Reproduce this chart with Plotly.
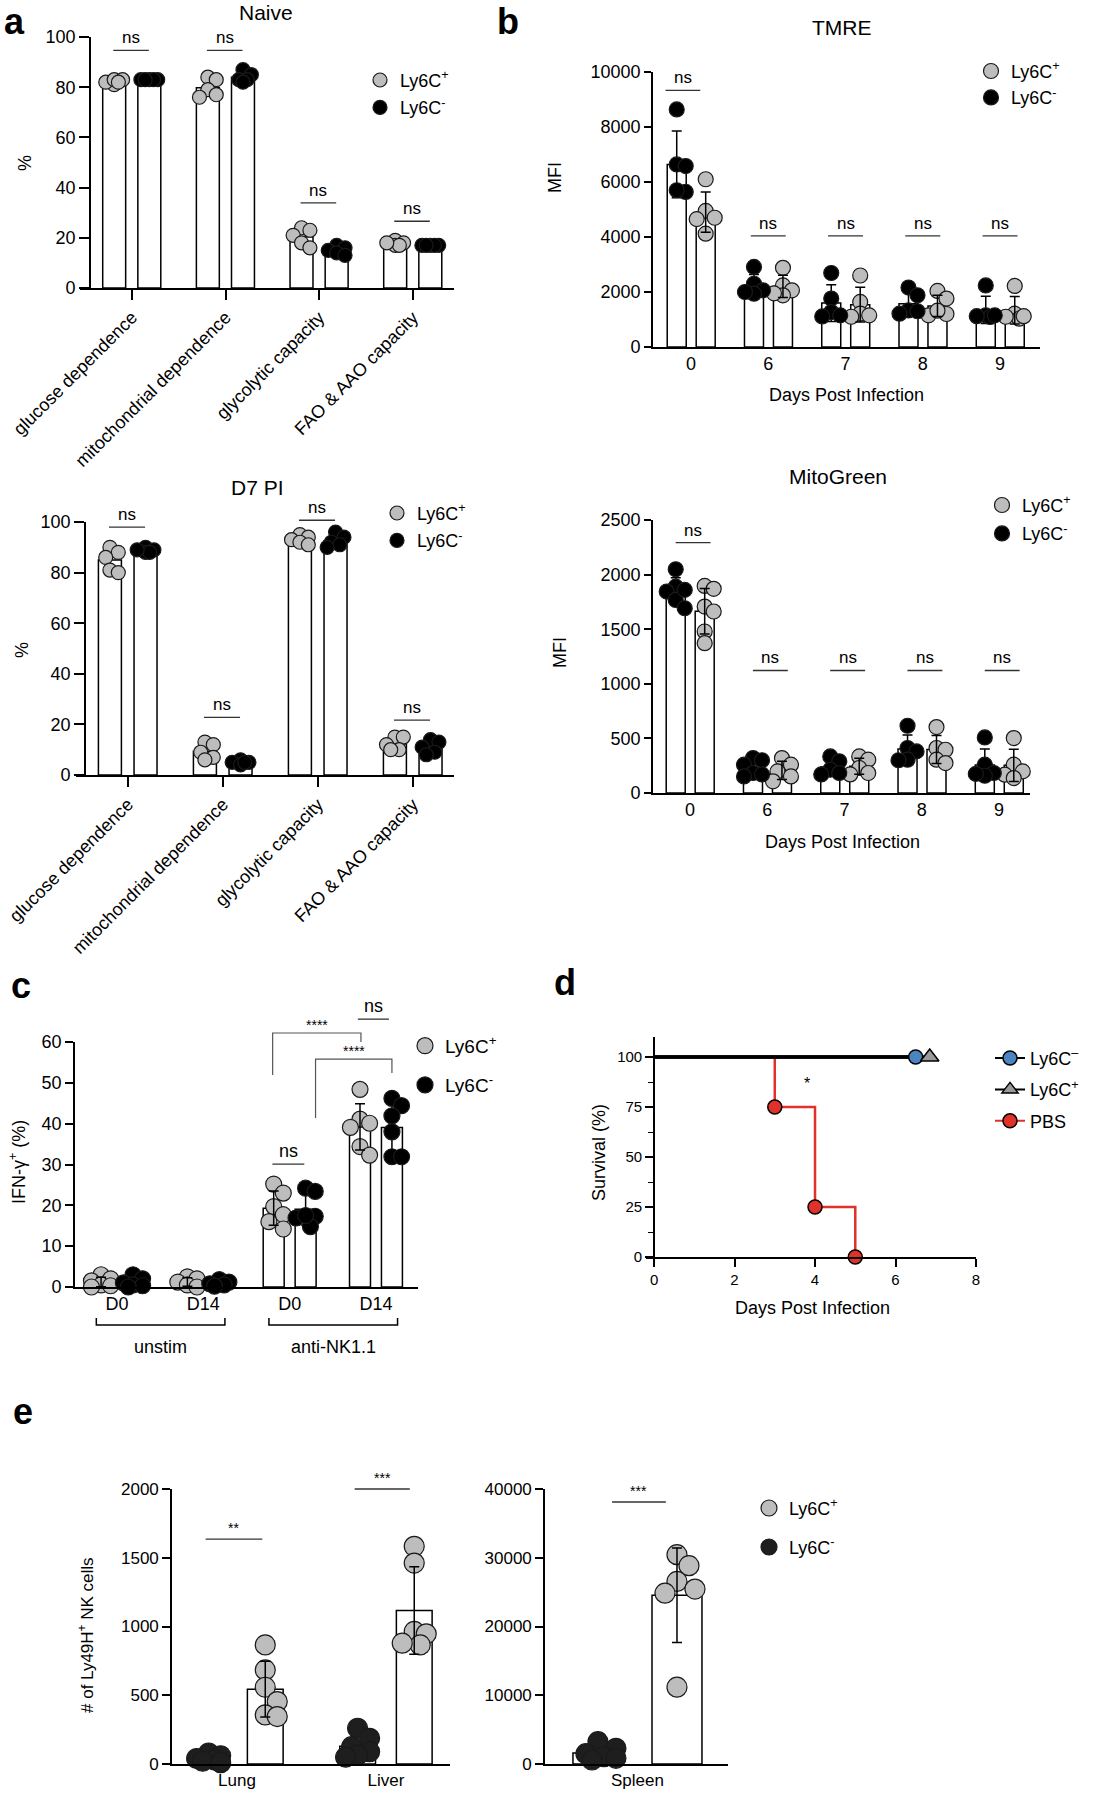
import math
import numpy as np
import plotly.graph_objects as go

W, H = 1096, 1800
FONT = "Arial, Liberation Sans, Helvetica, sans-serif"
GREY = "#bdbdbd"
BLACK = "#000000"

# ---------------- data ----------------
metab_labels = ["glucose dependence", "mitochondrial dependence", "glycolytic capacity", "FAO & AAO capacity"]
naive_ly6c_pos = [[81, 82, 83, 83, 82], [84, 83, 79, 77, 76], [24, 23, 21, 18, 16], [19, 18, 17, 17, 18]]
naive_ly6c_neg = [[83, 83, 83, 83, 83], [87, 85, 83, 83, 82], [17, 16, 15, 14, 13], [17, 17, 17, 17, 17]]
d7_ly6c_pos = [[90, 88, 86, 81, 80], [13, 12, 9, 7, 6], [95, 94, 93, 92, 91], [15, 15, 12, 10, 10]]
d7_ly6c_neg = [[90, 89, 88, 88, 89], [6, 5, 5, 4, 5], [96, 94, 92, 91, 90], [14, 13, 11, 9, 8]]

days_labels = ["0", "6", "7", "8", "9"]
tmre_ly6c_pos = [[6100, 4950, 4700, 4650, 4120], [2880, 2240, 2060, 1880, 1950], [2600, 1640, 1210, 1150, 1100],
                 [2040, 1760, 1150, 1200, 1320], [2220, 1210, 1030, 1100, 1120]]
tmre_ly6c_neg = [[8640, 6640, 6580, 5640, 5700], [2910, 2300, 2060, 1940, 2000], [2690, 1760, 1270, 1150, 1110],
                 [2160, 1880, 1330, 1210, 1300], [2240, 1150, 1090, 1150, 1120]]
mito_ly6c_pos = [[1896, 1870, 1707, 1662, 1479, 1372], [320, 259, 198, 152, 107], [335, 305, 229, 183, 170],
                 [604, 412, 396, 305, 274], [503, 259, 198, 168, 137]]
mito_ly6c_neg = [[2049, 1890, 1845, 1768, 1692, 1860], [320, 300, 259, 183, 152, 170], [335, 290, 213, 183, 170],
                 [616, 412, 381, 305, 300], [509, 259, 183, 158, 175]]

ifn_labels = ["D0", "D14", "D0", "D14"]
ifn_groups = ["unstim", "anti-NK1.1"]
ifn_ly6c_pos = [[3, 2, 1.5, 0.5, 0, 0.3], [2.5, 2, 1.2, 0.5, 0], [25.2, 23, 19.7, 17.7, 16, 14.2],
                [48.4, 41.1, 40.1, 39.1, 34.4, 32.3]]
ifn_ly6c_neg = [[3, 2, 1, 0.5, 0.3, 0], [1.8, 1.2, 0.8, 0.5, 0.2], [24.2, 23.4, 17.3, 16.9, 14.8, 17.5],
                [46.2, 44.4, 41.9, 38.0, 31.9, 31.9]]

pbs_days = [0, 3, 4, 5]
pbs_surv = [100, 75, 25, 0]
ly6c_neg_days = [0, 6.5]
ly6c_neg_surv = [100, 100]
ly6c_pos_days = [0, 6.85]
ly6c_pos_surv = [100, 100]

organ_labels = ["Lung", "Liver"]
ly49h_ly6c_neg = [[80, 60, 40, 30, 20, 10], [260, 187, 126, 90, 65, 50]]
ly49h_ly6c_pos = [[866, 684, 558, 454, 357, 345], [1583, 1461, 964, 947, 866, 879]]
spleen_labels = ["Spleen"]
spleen_ly6c_neg = [[3250, 2280, 1500, 1070, 830, 580]]
spleen_ly6c_pos = [[30440, 28840, 26550, 25440, 24850, 11170]]

POS_NAME = "Ly6C<sup>+</sup>"
NEG_NAME = "Ly6C<sup>-</sup>"

# ---------------- helpers ----------------
fig = go.Figure()
panels = {}
shapes, annots = [], []


def sfx(n):
    return "" if n == 1 else str(n)


def setup_panel(n, xpx, ypx, xr, yr, ypos_px=None, xextra=None, yextra=None, fsize=18):
    panels[n] = dict(x0=xpx[0], x1=xpx[1], y0=ypx[0], y1=ypx[1], xr=xr, yr=yr)
    s = sfx(n)
    base = dict(showline=True, linecolor="black", linewidth=1.6, showgrid=False, zeroline=False,
                ticks="outside", tickcolor="black", tickwidth=1.6, ticklen=8, automargin=False,
                tickfont=dict(family=FONT, size=fsize, color="black"), fixedrange=True)
    xa = dict(base, domain=[xpx[0] / W, xpx[1] / W], range=xr, anchor="y" + s)
    ya = dict(base, domain=[1 - ypx[1] / H, 1 - ypx[0] / H], range=yr, anchor="x" + s)
    if ypos_px is not None:
        ya["anchor"] = "free"
        ya["position"] = ypos_px / W
    if xextra:
        xa.update(xextra)
    if yextra:
        ya.update(yextra)
    fig.update_layout(**{"xaxis" + s: xa, "yaxis" + s: ya})


def to_px(n, xv, yv):
    p = panels[n]
    X = p["x0"] + (xv - p["xr"][0]) / (p["xr"][1] - p["xr"][0]) * (p["x1"] - p["x0"])
    Y = p["y1"] - (yv - p["yr"][0]) / (p["yr"][1] - p["yr"][0]) * (p["y1"] - p["y0"])
    return X, Y


def scale(n):
    p = panels[n]
    return ((p["x1"] - p["x0"]) / (p["xr"][1] - p["xr"][0]),
            (p["y1"] - p["y0"]) / (p["yr"][1] - p["yr"][0]))


def line_px(pts, width=1.4, color="black"):
    path = "M " + " L ".join(f"{x / W:.5f},{1 - y / H:.5f}" for x, y in pts)
    shapes.append(dict(type="path", path=path, xref="paper", yref="paper",
                       line=dict(color=color, width=width)))


def text_px(x, y, text, size=18, xanchor="center", yanchor="middle", angle=0):
    annots.append(dict(x=x / W, y=1 - y / H, xref="paper", yref="paper", text=text, showarrow=False,
                       xanchor=xanchor, yanchor=yanchor, textangle=angle,
                       font=dict(family=FONT, size=size, color="black")))


def sig(n, xa, xb, y, text, size=17):
    X0, Y = to_px(n, xa, y)
    X1, _ = to_px(n, xb, y)
    line_px([(X0, Y), (X1, Y)], width=1.3, color="#333333")
    text_px((X0 + X1) / 2, Y - 1, text, size, yanchor="bottom")


def swarm(vals, center, sx, sy, diam, maxoff, fac=0.75):
    placed = []
    res = [center] * len(vals)
    step = diam * 0.3
    cands = [0.0]
    k = 1
    while k * step <= maxoff:
        cands += [k * step, -k * step]
        k += 1
    order = sorted(range(len(vals)), key=lambda i: -vals[i])
    for i in order:
        y = vals[i] * sy
        best, bestov = 0.0, 1e9
        for c in cands:
            ov = max([0.0] + [diam * fac - math.hypot(c - px, y - py) for px, py in placed])
            if ov <= 0:
                best = c
                break
            if ov < bestov:
                bestov, best = ov, c
        placed.append((best, y))
        res[i] = center + best / sx
    return res


def add_series(n, vals_list, off, bw, color, name, legend, rank, diam, maxoff,
               err="top", pt_line="#1a1a1a", fac=0.75, showlegend=True):
    """err: 'top' (error bars over points), 'under' (below points) or None."""
    s = sfx(n)
    xa, ya = "x" + s, "y" + s
    centers = list(range(len(vals_list)))
    xs = [c + off for c in centers]
    means = [float(np.mean(v)) for v in vals_list]
    sds = [float(np.std(v, ddof=1)) for v in vals_list]
    fig.add_trace(go.Bar(x=xs, y=means, width=bw, xaxis=xa, yaxis=ya, showlegend=False, hoverinfo="skip",
                         marker=dict(color="white", line=dict(color="black", width=1.5))))
    err_trace = go.Scatter(x=xs, y=means, mode="markers", xaxis=xa, yaxis=ya, cliponaxis=False,
                           marker=dict(size=1, color="rgba(0,0,0,0)"), showlegend=False,
                           error_y=dict(type="data", array=sds, color="black", thickness=1.5, width=5),
                           hoverinfo="skip")
    if err == "under":
        fig.add_trace(err_trace)
    sx, sy = scale(n)
    px_, py_ = [], []
    for c, v in zip(xs, vals_list):
        px_ += swarm(v, c, sx, sy, diam, maxoff, fac)
        py_ += list(v)
    fig.add_trace(go.Scatter(x=px_, y=py_, mode="markers", xaxis=xa, yaxis=ya, cliponaxis=False,
                             marker=dict(size=diam, color=color, line=dict(color=pt_line, width=1.2)),
                             name=name, legend=legend, legendrank=rank, legendgroup=legend + name,
                             showlegend=showlegend, hoverinfo="skip"))
    if err == "top":
        fig.add_trace(err_trace)


def legend_cfg(cx, cy, gap=0, size=18):
    return dict(x=(cx - 20) / W, y=1 - (cy - 18.2) / H, xanchor="left", yanchor="top",
                bgcolor="rgba(0,0,0,0)", borderwidth=0, tracegroupgap=gap, traceorder="grouped",
                font=dict(family=FONT, size=size, color="black"), itemclick=False, itemdoubleclick=False)


cat_ticks = dict(tickmode="array", tickvals=list(range(4)), ticktext=metab_labels, tickangle=-45, ticklen=10)

# ---------------- panel a (Naive) ----------------
setup_panel(1, (80, 454), (37, 288), [-0.555, 3.438], [0, 100], ypos_px=90,
            xextra=cat_ticks, yextra=dict(dtick=20, ticklen=10))
add_series(1, naive_ly6c_pos, -0.19, 0.245, GREY, POS_NAME, "legend", 1, 14, 12, err=None)
add_series(1, naive_ly6c_neg, 0.185, 0.245, BLACK, NEG_NAME, "legend", 2, 14, 12, err=None)
for g, yv in enumerate([94.7, 94.7, 33.9, 26.6]):
    sig(1, g - 0.2, g + 0.18, yv, "ns")
text_px(266, 12, "Naive", 21)
text_px(25, 163, "%", 18, angle=-90)

# ---------------- panel a (D7 PI) ----------------
setup_panel(2, (76, 454), (522, 775), [-0.547, 3.432], [0, 100], ypos_px=85,
            xextra=cat_ticks, yextra=dict(dtick=20, ticklen=10))
add_series(2, d7_ly6c_pos, -0.19, 0.242, GREY, POS_NAME, "legend2", 1, 14, 12, err=None)
add_series(2, d7_ly6c_neg, 0.185, 0.242, BLACK, NEG_NAME, "legend2", 2, 14, 12, err=None)
for g, yv in enumerate([98, 22.8, 100.7, 21.7]):
    sig(2, g - 0.2, g + 0.18, yv, "ns")
text_px(257, 488, "D7 PI", 21)
text_px(22, 650, "%", 18, angle=-90)

# ---------------- panel b (TMRE) ----------------
day_ticks = dict(tickmode="array", tickvals=list(range(5)), ticktext=days_labels, ticks="")
setup_panel(3, (653, 1040), (72, 347), [-0.492, 4.517], [0, 10000],
            xextra=day_ticks, yextra=dict(dtick=2000, tickformat="d", ticklen=7))
add_series(3, tmre_ly6c_pos, 0.19, 0.246, GREY, POS_NAME, "legend3", 1, 15, 12, err="top")
add_series(3, tmre_ly6c_neg, -0.185, 0.246, BLACK, NEG_NAME, "legend3", 2, 15, 12, err="under")
sig(3, -0.33, 0.12, 9330, "ns")
for g in range(1, 5):
    sig(3, g - 0.226, g + 0.226, 4040, "ns")
text_px(842, 28, "TMRE", 21)
text_px(555, 178, "MFI", 18, angle=-90)
text_px(846, 395, "Days Post Infection", 18)

# ---------------- panel b (MitoGreen) ----------------
setup_panel(4, (653, 1030), (520, 793), [-0.479, 4.40], [0, 2500],
            xextra=day_ticks, yextra=dict(dtick=500, tickformat="d", ticklen=7))
add_series(4, mito_ly6c_pos, 0.19, 0.246, GREY, POS_NAME, "legend4", 1, 15, 12, err="top")
add_series(4, mito_ly6c_neg, -0.185, 0.246, BLACK, NEG_NAME, "legend4", 2, 15, 12, err="under")
sig(4, 0.04 - 0.226, 0.04 + 0.226, 2293, "ns")
for g in range(1, 5):
    sig(4, g + 0.04 - 0.226, g + 0.04 + 0.226, 1122, "ns")
text_px(838, 476, "MitoGreen", 21)
text_px(560, 653, "MFI", 18, angle=-90)
text_px(842, 842, "Days Post Infection", 18)

# ---------------- panel c ----------------
setup_panel(5, (75, 418), (1042, 1287), [-0.487, 3.487], [0, 60],
            xextra=dict(tickmode="array", tickvals=list(range(4)), ticktext=ifn_labels, ticks=""),
            yextra=dict(dtick=10, ticklen=8))
add_series(5, ifn_ly6c_pos, -0.185, 0.243, GREY, POS_NAME, "legend5", 1, 16, 14, fac=0.8, err="top")
add_series(5, ifn_ly6c_neg, 0.185, 0.243, BLACK, NEG_NAME, "legend5", 2, 16, 14, fac=0.8, err="under")
sig(5, 2 - 0.2, 2 + 0.17, 30.1, "ns", 18)
sig(5, 3 - 0.21, 3 + 0.15, 65.6, "ns", 18)
xa0, ya0 = to_px(5, 2 - 0.197, 51.9)
xb0, yb0 = to_px(5, 3 - 0.174, 60.0)
_, yt0 = to_px(5, 0, 62.2)
line_px([(xa0, ya0), (xa0, yt0), (xb0, yt0), (xb0, yb0)], width=1.2, color="#555555")
text_px((xa0 + xb0) / 2, yt0 + 2, "****", 14, yanchor="bottom")
xa1, ya1 = to_px(5, 2 + 0.30, 41.4)
xb1, yb1 = to_px(5, 3 + 0.185, 52.4)
_, yt1 = to_px(5, 0, 55.8)
line_px([(xa1, ya1), (xa1, yt1), (xb1, yt1), (xb1, yb1)], width=1.2, color="#555555")
text_px((xa1 + xb1) / 2, yt1 + 2, "****", 14, yanchor="bottom")
for gi, gname in enumerate(ifn_groups):
    xl, _ = to_px(5, 2 * gi - 0.24, 0)
    xr_, _ = to_px(5, 2 * gi + 1 + 0.25, 0)
    line_px([(xl, 1318), (xl, 1325), (xr_, 1325), (xr_, 1318)], width=1.5)
    text_px((xl + xr_) / 2, 1347, gname, 18)
text_px(17, 1162, "IFN-γ<sup>+</sup> (%)", 18, angle=-90)

# ---------------- panel d ----------------
setup_panel(6, (646, 976), (1037, 1257), [-0.2, 8], [0, 110], ypos_px=654, fsize=15,
            xextra=dict(tickmode="array", tickvals=[0, 2, 4, 6, 8], ticklen=8),
            yextra=dict(tickmode="array", tickvals=[0, 25, 50, 75, 100], ticklen=8,
                        minor=dict(tickmode="array", tickvals=[12.5, 37.5, 62.5, 87.5], ticklen=5,
                                   ticks="outside", tickcolor="black", tickwidth=1.4)))
RED = "#e0312b"
BLUE = "#4a85c0"
fig.add_trace(go.Scatter(x=pbs_days, y=pbs_surv, mode="lines", line=dict(color=RED, width=2.5, shape="hv"),
                         xaxis="x6", yaxis="y6", showlegend=False, cliponaxis=False, hoverinfo="skip"))
fig.add_trace(go.Scatter(x=ly6c_pos_days, y=ly6c_pos_surv, mode="lines", line=dict(color="black", width=3.5),
                         xaxis="x6", yaxis="y6", showlegend=False, cliponaxis=False, hoverinfo="skip"))
fig.add_trace(go.Scatter(x=ly6c_neg_days, y=ly6c_neg_surv, mode="lines", line=dict(color="black", width=3.5),
                         xaxis="x6", yaxis="y6", showlegend=False, cliponaxis=False, hoverinfo="skip"))
fig.add_trace(go.Scatter(x=ly6c_neg_days[-1:], y=ly6c_neg_surv[-1:], mode="markers", xaxis="x6", yaxis="y6",
                         marker=dict(size=14, color=BLUE, line=dict(color="black", width=1.5)),
                         showlegend=False, cliponaxis=False, hoverinfo="skip"))
fig.add_trace(go.Scatter(x=ly6c_pos_days[-1:], y=ly6c_pos_surv[-1:], mode="markers", xaxis="x6", yaxis="y6",
                         marker=dict(size=16, symbol="triangle-up", color="#9a9a9a",
                                     line=dict(color="black", width=1.5)),
                         showlegend=False, cliponaxis=False, hoverinfo="skip"))
fig.add_trace(go.Scatter(x=pbs_days[1:], y=pbs_surv[1:], mode="markers", xaxis="x6", yaxis="y6",
                         marker=dict(size=14, color=RED, line=dict(color="black", width=1.5)),
                         showlegend=False, cliponaxis=False, hoverinfo="skip"))
for nm, col, sym, lc, rk in [("Ly6C<sup>–</sup>", BLUE, "circle", "black", 1),
                             ("Ly6C<sup>+</sup>", "#9a9a9a", "triangle-up", "black", 2),
                             ("PBS", RED, "circle", RED, 3)]:
    fig.add_trace(go.Scatter(x=[None], y=[None], mode="lines+markers", xaxis="x6", yaxis="y6",
                             line=dict(color=lc, width=2),
                             marker=dict(size=14, symbol=sym, color=col, line=dict(color="black", width=1.5)),
                             name=nm, legend="legend6", legendrank=rk, legendgroup="d" + nm))
X, Y = to_px(6, 3.8, 87)
text_px(X, Y, "*", 16)
text_px(599, 1153, "Survival (%)", 18, angle=-90)
text_px(812, 1308, "Days Post Infection", 18)

# ---------------- panel e ----------------
setup_panel(7, (172, 450), (1489, 1764), [-0.436, 1.43], [0, 2000], fsize=17,
            xextra=dict(tickmode="array", tickvals=[0, 1], ticktext=organ_labels, ticks=""),
            yextra=dict(dtick=500, tickformat="d", ticklen=8))
add_series(7, ly49h_ly6c_pos, 0.19, 0.24, GREY, POS_NAME, "legend7", 1, 20, 16, fac=0.8, err="top")
add_series(7, ly49h_ly6c_neg, -0.19, 0.24, "#1e1e1e", NEG_NAME, "legend7", 2, 20, 16, fac=0.8, err="under")
setup_panel(8, (545, 728), (1489, 1764), [-0.62, 0.607], [0, 40000], fsize=17,
            xextra=dict(tickmode="array", tickvals=[0], ticktext=spleen_labels, ticks=""),
            yextra=dict(dtick=10000, tickformat="d", ticklen=8))
add_series(8, spleen_ly6c_pos, 0.265, 0.335, GREY, POS_NAME, "legend7", 3, 20, 20, fac=0.8, err="top",
           showlegend=False)
add_series(8, spleen_ly6c_neg, -0.265, 0.335, "#1e1e1e", NEG_NAME, "legend7", 4, 20, 20, fac=0.8,
           err="under", showlegend=False)
sig(7, -0.21, 0.17, 1636, "**", 14)
sig(7, 1 - 0.21, 1 + 0.16, 2000, "***", 14)
sig(8, -0.17, 0.19, 38109, "***", 14)
text_px(86, 1635, "# of Ly49H<sup>+</sup> NK cells", 17, angle=-90)

# ---------------- panel letters ----------------
for lt, (lx, ly) in {"a": (14, 21), "b": (508, 21), "c": (21, 985), "d": (565, 982), "e": (23, 1411)}.items():
    text_px(lx, ly, f"<b>{lt}</b>", 36)

fig.update_layout(
    template="none",
    width=W, height=H, autosize=False, margin=dict(l=0, r=0, t=0, b=0, pad=0),
    paper_bgcolor="white", plot_bgcolor="white", barmode="overlay",
    font=dict(family=FONT, color="black"),
    shapes=shapes, annotations=annots,
    legend=legend_cfg(380, 80, 1),
    legend2=legend_cfg(397, 513, 1),
    legend3=legend_cfg(991, 71, 0),
    legend4=legend_cfg(1002, 505, 2),
    legend5=legend_cfg(425, 1045, 11.6, 19),
    legend6=legend_cfg(1010, 1058, 5),
    legend7=legend_cfg(769, 1508, 12.6),
)

fig.write_html("out.html", config={"displayModeBar": False, "staticPlot": False},
               post_script="document.body.style.margin='0';")
